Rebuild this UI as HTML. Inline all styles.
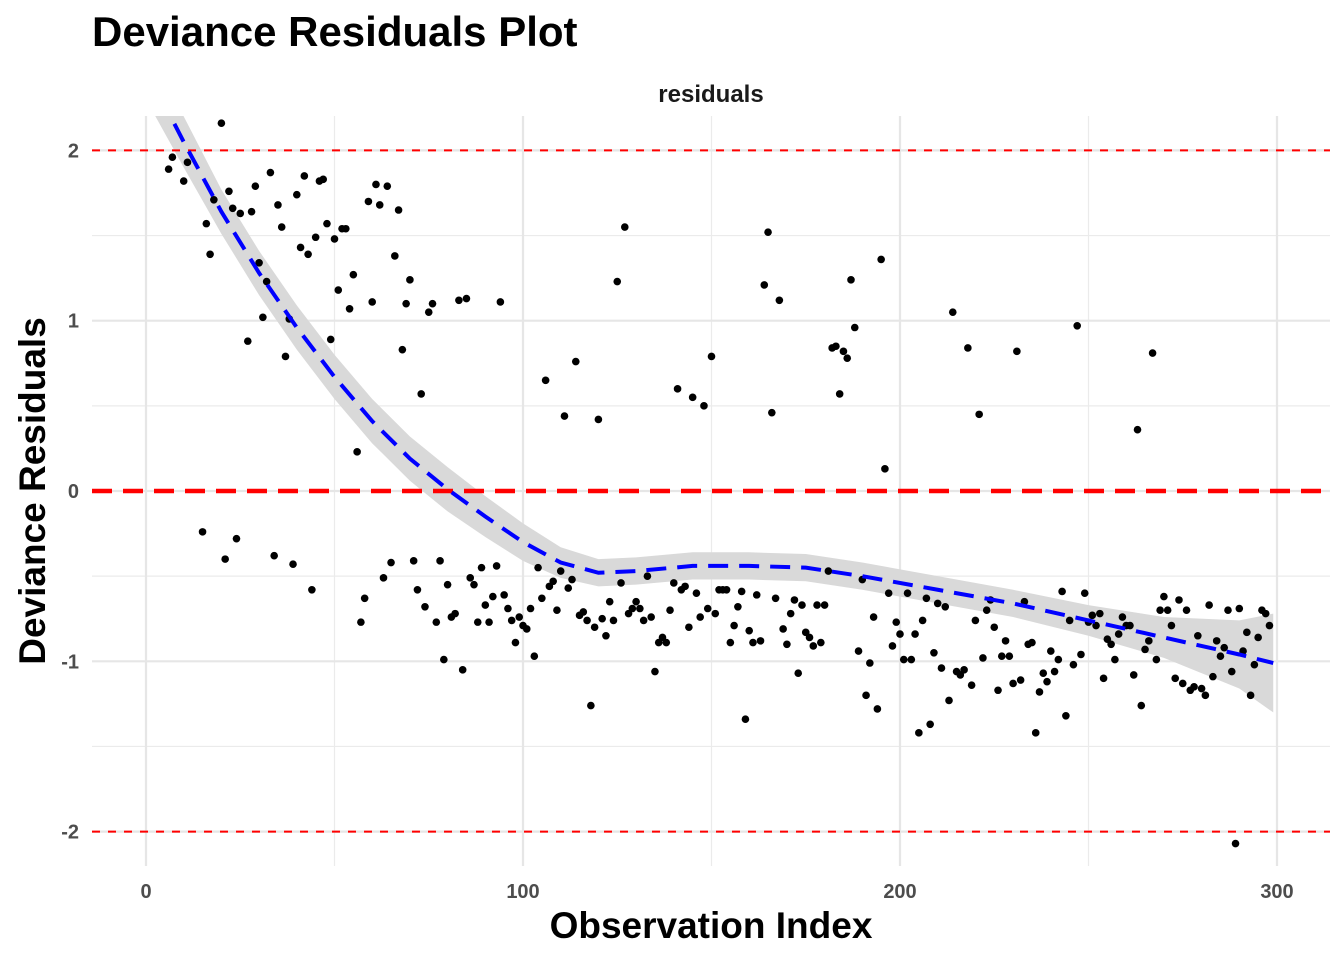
<!DOCTYPE html>
<html><head><meta charset="utf-8"><style>
body{margin:0;background:#fff;}
text{font-family:"Liberation Sans",sans-serif;font-weight:bold;}
</style></head><body>
<svg id="chart" width="1344" height="960" xmlns="http://www.w3.org/2000/svg">
<text x="92" y="46" font-size="42" fill="#000">Deviance Residuals Plot</text>
<text x="711" y="102" font-size="24" fill="#1a1a1a" text-anchor="middle">residuals</text>
<text x="711" y="938" font-size="37" fill="#000" text-anchor="middle">Observation Index</text>
<text transform="translate(45,491) rotate(-90)" font-size="37" fill="#000" text-anchor="middle">Deviance Residuals</text>
<defs><clipPath id="pc"><rect x="92" y="116" width="1238" height="750"/></clipPath></defs>
<g id="grid"></g><g id="band" clip-path="url(#pc)"></g><g id="refs"></g><g id="pts" clip-path="url(#pc)"></g><g id="fit" clip-path="url(#pc)"></g><g id="ticks"></g>
</svg>
<script>
const obsIndex=[6,7,10,11,15,16,17,18,20,21,22,23,24,25,27,28,29,30,31,32,33,34,35,36,37,38,39,40,41,42,43,44,45,46,47,48,49,50,51,52,53,54,55,56,57,58,59,60,61,62,63,64,65,66,67,68,69,70,71,72,73,74,75,76,77,78,79,80,81,82,83,84,85,86,87,88,89,90,91,92,93,94,95,96,97,98,99,100,101,102,103,104,105,106,107,108,109,110,111,112,113,114,115,116,117,118,119,120,121,122,123,124,125,126,127,128,129,130,131,132,133,134,135,136,137,138,139,140,141,142,143,144,145,146,147,148,149,150,151,152,153,154,155,156,157,158,159,160,161,162,163,164,165,166,167,168,169,170,171,172,173,174,175,176,177,178,179,180,181,182,183,184,185,186,187,188,189,190,191,192,193,194,195,196,197,198,199,200,201,202,203,204,205,206,207,208,209,210,211,212,213,214,215,216,217,218,219,220,221,222,223,224,225,226,227,228,229,230,231,232,233,234,235,236,237,238,239,240,241,242,243,244,245,246,247,248,249,250,251,252,253,254,255,256,257,258,259,260,261,262,263,264,265,266,267,268,269,270,271,272,273,274,275,276,277,278,279,280,281,282,283,284,285,286,287,288,289,290,291,292,293,294,295,296,297,298];
const residual=[1.89,1.96,1.82,1.93,-0.24,1.57,1.39,1.71,2.16,-0.40,1.76,1.66,-0.28,1.63,0.88,1.64,1.79,1.34,1.02,1.23,1.87,-0.38,1.68,1.55,0.79,1.01,-0.43,1.74,1.43,1.85,1.39,-0.58,1.49,1.82,1.83,1.57,0.89,1.48,1.18,1.54,1.54,1.07,1.27,0.23,-0.77,-0.63,1.70,1.11,1.80,1.68,-0.51,1.79,-0.42,1.38,1.65,0.83,1.10,1.24,-0.41,-0.58,0.57,-0.68,1.05,1.10,-0.77,-0.41,-0.99,-0.55,-0.74,-0.72,1.12,-1.05,1.13,-0.51,-0.55,-0.77,-0.45,-0.67,-0.77,-0.62,-0.44,1.11,-0.61,-0.69,-0.76,-0.89,-0.74,-0.79,-0.81,-0.69,-0.97,-0.45,-0.63,0.65,-0.56,-0.53,-0.70,-0.47,0.44,-0.57,-0.52,0.76,-0.73,-0.71,-0.76,-1.26,-0.80,0.42,-0.75,-0.85,-0.65,-0.76,1.23,-0.54,1.55,-0.72,-0.69,-0.65,-0.69,-0.76,-0.50,-0.74,-1.06,-0.89,-0.86,-0.89,-0.70,-0.54,0.60,-0.58,-0.56,-0.80,0.55,-0.60,-0.74,0.50,-0.69,0.79,-0.72,-0.58,-0.58,-0.58,-0.89,-0.79,-0.68,-0.59,-1.34,-0.82,-0.89,-0.61,-0.88,1.21,1.52,0.46,-0.63,1.12,-0.81,-0.90,-0.72,-0.64,-1.07,-0.67,-0.83,-0.86,-0.91,-0.67,-0.89,-0.67,-0.47,0.84,0.85,0.57,0.82,0.78,1.24,0.96,-0.94,-0.52,-1.20,-1.01,-0.74,-1.28,1.36,0.13,-0.60,-0.91,-0.77,-0.84,-0.99,-0.60,-0.99,-0.84,-1.42,-0.76,-0.63,-1.37,-0.95,-0.66,-1.04,-0.68,-1.23,1.05,-1.06,-1.08,-1.05,0.84,-1.14,-0.76,0.45,-0.98,-0.70,-0.64,-0.80,-1.17,-0.97,-0.88,-0.97,-1.13,0.82,-1.11,-0.65,-0.90,-0.89,-1.42,-1.18,-1.07,-1.12,-0.94,-1.06,-0.99,-0.59,-1.32,-0.76,-1.02,0.97,-0.96,-0.60,-0.77,-0.73,-0.79,-0.72,-1.10,-0.87,-0.90,-0.99,-0.84,-0.74,-0.79,-0.79,-1.08,0.36,-1.26,-0.93,-0.88,0.81,-0.99,-0.70,-0.62,-0.70,-0.79,-1.10,-0.64,-1.13,-0.70,-1.17,-1.15,-0.85,-1.16,-1.20,-0.67,-1.09,-0.88,-0.97,-0.92,-0.70,-1.06,-2.07,-0.69,-0.94,-0.83,-1.20,-1.02,-0.86,-0.70,-0.72,-0.79];
const fitX=[0,10,20,30,40,50,60,70,80,90,100,110,120,130,145,160,175,190,210,230,250,270,290,299];
const fitY=[2.48,2.05,1.64,1.28,0.96,0.67,0.41,0.19,0.01,-0.15,-0.30,-0.42,-0.48,-0.47,-0.44,-0.44,-0.45,-0.50,-0.58,-0.66,-0.76,-0.86,-0.96,-1.01];
const fitSE=[0.18,0.15,0.13,0.13,0.13,0.13,0.13,0.13,0.13,0.12,0.11,0.09,0.08,0.08,0.08,0.08,0.08,0.08,0.08,0.08,0.09,0.12,0.2,0.29];
const xTicks=[0,100,200,300];
const yTicks=[-2,-1,0,1,2];
const NS='http://www.w3.org/2000/svg';
const sx=v=>146+v*3.77, sy=v=>491-v*170.3;
function mk(p,t,a){const e=document.createElementNS(NS,t);for(const k in a)e.setAttribute(k,a[k]);document.getElementById(p).appendChild(e);return e;}
[-150,-50,50,150,250,350].forEach(v=>{if(v>-15&&v<315){const e=mk('grid','line',{x1:sx(v),x2:sx(v),y1:116,y2:866,stroke:'#ebebeb','stroke-width':1.2});

}});
[-1.5,-0.5,0.5,1.5].forEach(v=>{const e=mk('grid','line',{x1:92,x2:1330,y1:sy(v),y2:sy(v),stroke:'#ebebeb','stroke-width':1.2});

});
xTicks.forEach(v=>{const e=mk('grid','line',{x1:sx(v),x2:sx(v),y1:116,y2:866,stroke:'#e6e6e6','stroke-width':2.2});


const t=mk('ticks','text',{x:sx(v),y:898,'font-size':20,fill:'#4d4d4d','text-anchor':'middle'});t.textContent=v;

});
yTicks.forEach(v=>{const e=mk('grid','line',{x1:92,x2:1330,y1:sy(v),y2:sy(v),stroke:'#e6e6e6','stroke-width':2.2});


const t=mk('ticks','text',{x:79,y:sy(v)+7,'font-size':20,fill:'#4d4d4d','text-anchor':'end'});t.textContent=v;

});
let up='',lo='';
fitX.forEach((x,i)=>{up+=(i?'L':'M')+sx(x)+','+sy(fitY[i]+fitSE[i]);});
for(let i=fitX.length-1;i>=0;i--)lo+='L'+sx(fitX[i])+','+sy(fitY[i]-fitSE[i]);
const b=mk('band','path',{d:up+lo+'Z',fill:'#d9d9d9'});


[[2,2,'8,8'],[-2,2,'8,8'],[0,4.5,'20,11']].forEach(r=>{const e=mk('refs','line',{x1:92,x2:1330,y1:sy(r[0]),y2:sy(r[0]),stroke:'#ff0000','stroke-width':r[1],'stroke-dasharray':r[2]});

});
obsIndex.forEach((x,i)=>{const c=mk('pts','circle',{cx:sx(x),cy:sy(residual[i]),r:3.8,fill:'#000'});

});
let d='';fitX.forEach((x,i)=>{d+=(i?'L':'M')+sx(x)+','+sy(fitY[i]);});
const f=mk('fit','path',{d:d,fill:'none',stroke:'#0000ff','stroke-width':4,'stroke-dasharray':'20,11'});


</script>
</body></html>
